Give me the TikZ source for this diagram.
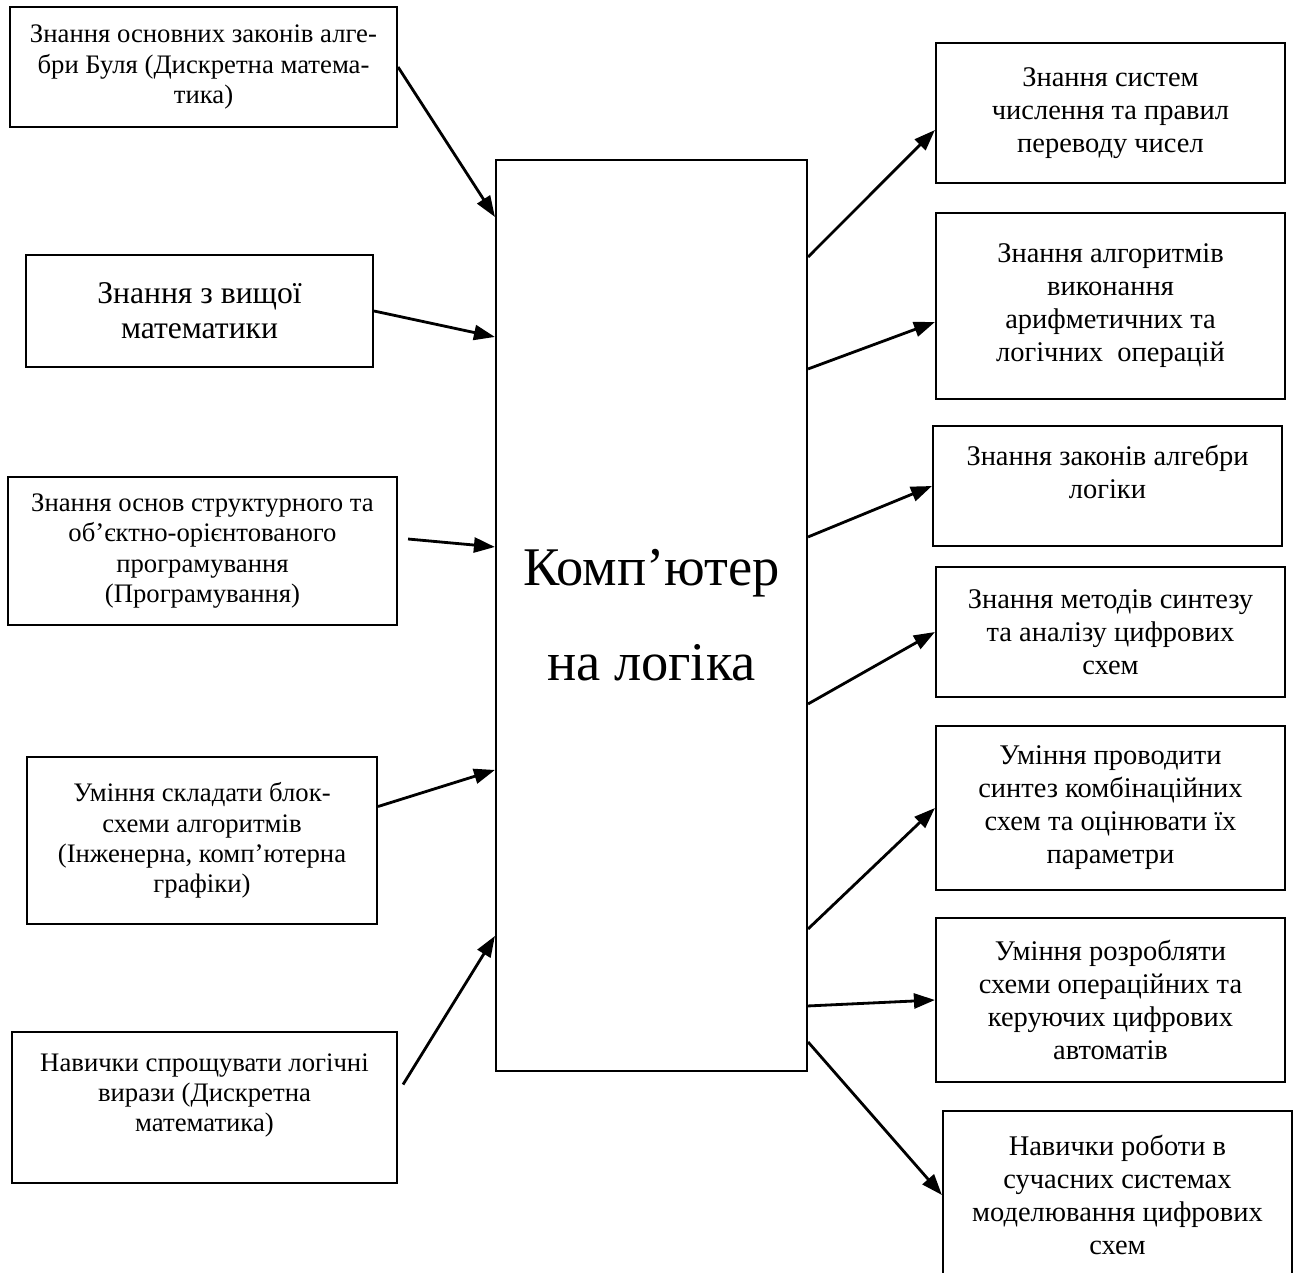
\documentclass[tikz,border=0pt]{standalone}
\usepackage{fontspec}
\setmainfont{Liberation Serif}
\usepackage{tikz}
\usetikzlibrary{arrows.meta}

\begin{document}
\begin{tikzpicture}[
  box/.style={draw,semithick,align=center,inner sep=0pt},
  sm/.style={font=\fontsize{7.6}{8.6}\selectfont},
  rt/.style={font=\fontsize{8.1}{9.4}\selectfont},
  arr/.style={thick,-{Triangle[length=0.21cm,width=0.15cm]}}]
\useasboundingbox (0,0) rectangle (12.98,-12.72);
\node[box,sm,minimum width=3.87cm,minimum height=1.20cm] (l1) at (2.035,-0.67)
  {Знання основних законів алге-\\бри Буля (Дискретна матема-\\тика)};
\node[box,font=\fontsize{9}{10}\selectfont,minimum width=3.47cm,minimum height=1.12cm] (l2) at (1.995,-3.11)
  {Знання з вищої\\математики};
\node[box,sm,minimum width=3.89cm,minimum height=1.48cm] (l3) at (2.025,-5.51)
  {Знання основ структурного та\\об’єктно-орієнтованого\\програмування\\(Програмування)};
\node[box,sm,minimum width=3.50cm,minimum height=1.67cm] (l4) at (2.02,-8.405)
  {Уміння складати блок-\\схеми алгоритмів\\(Інженерна, комп’ютерна\\графіки)};
\node[box,sm,minimum width=3.85cm,minimum height=1.51cm,text depth=0.3cm] (l5) at (2.045,-11.075)
  {Навички спрощувати логічні\\вирази (Дискретна\\математика)};
\node[box,font=\fontsize{15.5}{27}\selectfont,minimum width=3.11cm,minimum height=9.11cm] (core) at (6.515,-6.155)
  {Комп’ютер\\на логіка};
\node[box,rt,minimum width=3.49cm,minimum height=1.40cm] (r1) at (11.105,-1.13)
  {Знання систем\\числення та правил\\переводу чисел};
\node[box,rt,minimum width=3.49cm,minimum height=1.86cm] (r2) at (11.105,-3.06)
  {Знання алгоритмів\\виконання\\арифметичних та\\логічних\ \ операцій};
\node[box,rt,minimum width=3.49cm,minimum height=1.20cm,text depth=0.28cm] (r3) at (11.075,-4.86)
  {Знання законів алгебри\\логіки};
\node[box,rt,minimum width=3.49cm,minimum height=1.30cm] (r4) at (11.105,-6.32)
  {Знання методів синтезу\\та аналізу цифрових\\схем};
\node[box,rt,minimum width=3.49cm,minimum height=1.64cm] (r5) at (11.105,-8.08)
  {Уміння проводити\\синтез комбінаційних\\схем та оцінювати їх\\параметри};
\node[box,rt,minimum width=3.49cm,minimum height=1.64cm] (r6) at (11.105,-10.00)
  {Уміння розробляти\\схеми операційних та\\керуючих цифрових\\автоматів};
\node[box,rt,minimum width=3.49cm,minimum height=1.68cm] (r7) at (11.175,-11.95)
  {Навички роботи в\\сучасних системах\\моделювання цифрових\\схем};
\draw[arr] (l1.east) -- ([yshift=-0.58cm]core.north west);
\draw[arr] (l2.east) -- ([yshift=-1.78cm]core.north west);
\draw[arr] ([shift={(0.1,0.12)}]l3.east) -- ([yshift=-3.88cm]core.north west);
\draw[arr] ([yshift=0.34cm]l4.east) -- ([yshift=-6.11cm]core.north west);
\draw[arr] ([shift={(0.05,0.23)}]l5.east) -- ([yshift=-7.77cm]core.north west);
\draw[arr] ([yshift=-0.98cm]core.north east) -- ([yshift=-0.17cm]r1.west);
\draw[arr] ([yshift=-2.10cm]core.north east) -- ([yshift=-0.16cm]r2.west);
\draw[arr] ([yshift=-3.78cm]core.north east) -- (r3.west);
\draw[arr] ([yshift=-5.45cm]core.north east) -- (r4.west);
\draw[arr] ([yshift=-7.70cm]core.north east) -- (r5.west);
\draw[arr] ([yshift=-8.47cm]core.north east) -- (r6.west);
\draw[arr] ([yshift=-8.83cm]core.north east) -- (r7.west);
\end{tikzpicture}
\end{document}
